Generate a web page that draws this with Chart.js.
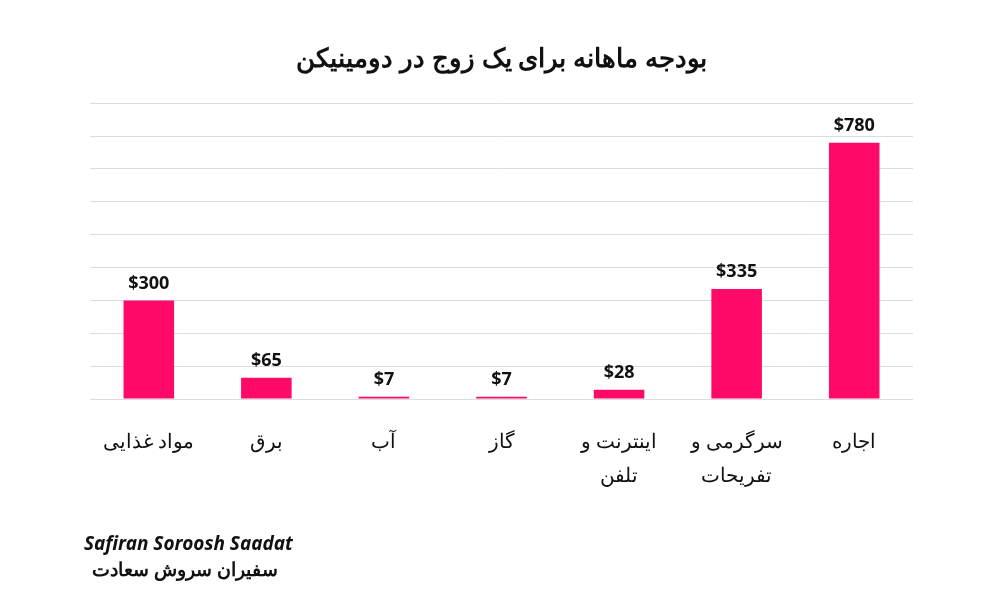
<!DOCTYPE html>
<html><head><meta charset="utf-8">
<script src="https://cdn.jsdelivr.net/npm/chart.js@4/dist/chart.umd.min.js"></script>
<style>
html,body{margin:0;padding:0;background:#fff;width:1000px;height:600px;overflow:hidden;font-family:"Noto Sans","DejaVu Sans",sans-serif}
#wrap{position:absolute;left:0;top:0;width:1000px;height:600px}
#logo{position:absolute;left:84px;top:530px;font:italic bold 19px "Noto Sans";color:#111}
#logo2{position:absolute;left:92px;top:556px;font:bold 19px "Noto Sans";color:#111;direction:rtl}
</style></head><body>
<div id="wrap"><canvas id="c" width="1000" height="600"></canvas></div>
<div id="logo">Safiran Soroosh Saadat</div>
<div id="logo2">سفیران سروش سعادت</div>
<script>
const categories=[["مواد غذایی"],["برق"],["آب"],["گاز"],["اینترنت و","تلفن"],["سرگرمی و","تفریحات"],["اجاره"]];
const values=[300,65,7,7,28,335,780];
const labelsTxt=["$300","$65","$7","$7","$28","$335","$780"];
const valueLabels={id:'vl',afterDatasetsDraw(ch){const ctx=ch.ctx;const m=ch.getDatasetMeta(0);ctx.save();ctx.font='bold 18px "Open Sans"';ctx.fillStyle='#111';ctx.textAlign='center';ctx.textBaseline='bottom';m.data.forEach((b,i)=>{ctx.fillText(labelsTxt[i],b.x,b.y-8);});ctx.restore();}};
new Chart(document.getElementById('c'),{type:'bar',
data:{labels:categories,datasets:[{data:values,backgroundColor:'#ff0a68',barPercentage:0.43,categoryPercentage:1}]},
options:{responsive:false,animation:false,
layout:{padding:{top:44,bottom:89,left:90,right:87}},
plugins:{legend:{display:false},tooltip:{enabled:false},
title:{display:true,text:'بودجه ماهانه برای یک زوج در دومینیکن',color:'#111',font:{size:26,weight:'bold',family:'"Noto Sans"'},padding:{top:0,bottom:28}}},
scales:{y:{min:0,max:900,ticks:{display:false,stepSize:100},grid:{color:'#dcdcdc',drawTicks:false},border:{display:false}},
x:{grid:{display:false},border:{display:false},ticks:{color:'#111',font:{size:20,family:'"Noto Sans"',lineHeight:1.7},padding:18,maxRotation:0}}}},
plugins:[valueLabels]});
</script></body></html>
